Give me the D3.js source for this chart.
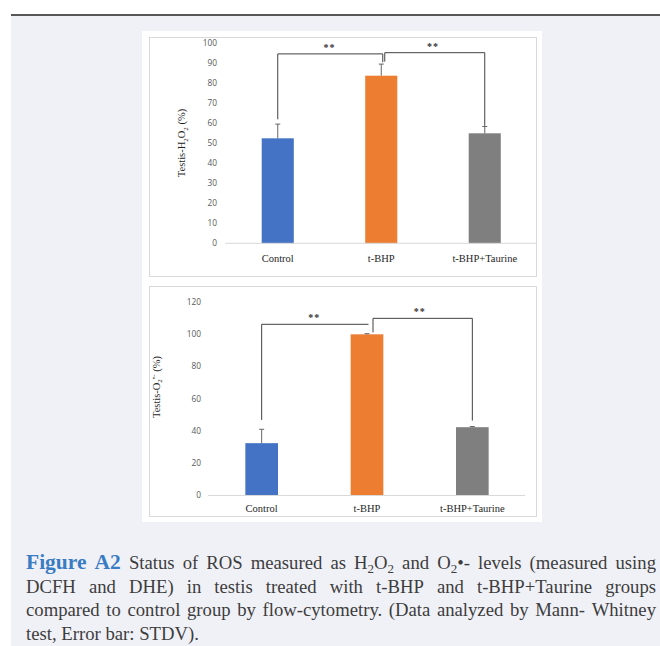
<!DOCTYPE html>
<html>
<head>
<meta charset="utf-8">
<script src="https://cdn.jsdelivr.net/npm/d3@7"></script>
<style>
  body { margin: 0; background: #fff; }
  svg { display: block; }
</style>
</head>
<body>
<svg id="fig" width="660" height="646"></svg>
<script>
var groups = ["Control", "t-BHP", "t-BHP+Taurine"];
var barColors = ["#4472c4", "#ed7d31", "#7f7f7f"];

// top chart: H2O2
var h2o2Mean = [52.5, 83.8, 55.0];
var h2o2Sd = [7.1, 5.8, 3.4];
var h2o2Ticks = [0, 10, 20, 30, 40, 50, 60, 70, 80, 90, 100];
var h2o2Brackets = [
  { from: 0, to: 1, top: 94.7, left: 62.0, right: 90.5, label: "**" },
  { from: 1, to: 2, top: 95.3, left: 90.8, right: 58.7, label: "**" }
];

// bottom chart: O2•-
var o2Mean = [32.4, 99.8, 42.3];
var o2Sd = [8.6, 0.4, 0.4];
var o2Ticks = [0, 20, 40, 60, 80, 100, 120];
var o2Brackets = [
  { from: 0, to: 1, top: 106.0, left: 46.8, right: 106.0, label: "**" },
  { from: 1, to: 2, top: 109.7, left: 101.0, right: 46.4, label: "**" }
];

var captionLines = [
  ["Figure", "A2", "Status", "of", "ROS", "measured", "as", "H_2O_2", "and", "O_2•-", "levels", "(measured", "using"],
  ["DCFH", "and", "DHE)", "in", "testis", "treated", "with", "t-BHP", "and", "t-BHP+Taurine", "groups"],
  ["compared", "to", "control", "group", "by", "flow-cytometry.", "(Data", "analyzed", "by", "Mann-", "Whitney"],
  ["test,", "Error", "bar:", "STDV)."]
];

var svg = d3.select("#fig");

// page background
svg.append("rect").attr("x", 11).attr("y", 15).attr("width", 649).attr("height", 631).attr("fill", "#f0f1f7");
svg.append("line").attr("x1", 11).attr("x2", 660).attr("y1", 15).attr("y2", 15)
  .attr("stroke", "#222").attr("stroke-width", 1.6);
// the pasted chart picture
svg.append("rect").attr("x", 142).attr("y", 31).attr("width", 400).attr("height", 491).attr("fill", "#fff");

function drawChart(cfg) {
  var g = svg.append("g");
  g.append("rect")
    .attr("x", cfg.box[0] + 0.5).attr("y", cfg.box[1] + 0.5)
    .attr("width", cfg.box[2]).attr("height", cfg.box[3])
    .attr("fill", "#fff").attr("stroke", "#d9d9d9");

  var x = d3.scaleBand().domain(d3.range(groups.length))
    .range([cfg.x0, cfg.x1]).paddingInner(0.69).paddingOuter(0.345);
  var y = d3.scaleLinear().domain([0, cfg.max]).range([cfg.y0, cfg.y1]);
  var cx = function (i) { return x(i) + x.bandwidth() / 2; };

  // tick labels only, no tick marks
  g.selectAll(".tick").data(cfg.ticks).enter().append("text")
    .attr("x", cfg.x0 - cfg.tickGap)
    .attr("y", function (d) { return y(d); })
    .attr("dy", "0.35em")
    .attr("text-anchor", "end")
    .attr("font-family", "Open Sans, sans-serif")
    .attr("font-size", 8.3)
    .attr("fill", "#595959")
    .text(function (d) { return d; });

  g.selectAll(".bar").data(cfg.mean).enter().append("rect")
    .attr("x", function (d, i) { return x(i); })
    .attr("y", function (d) { return y(d); })
    .attr("width", x.bandwidth())
    .attr("height", function (d) { return y(0) - y(d); })
    .attr("fill", function (d, i) { return barColors[i]; });

  g.append("line")
    .attr("x1", cfg.x0 - 1).attr("x2", cfg.x1)
    .attr("y1", y(0)).attr("y2", y(0))
    .attr("stroke", "#d9d9d9").attr("stroke-width", 1);

  // plus-only error bars
  var err = g.selectAll(".err").data(cfg.mean).enter().append("g");
  err.append("line")
    .attr("x1", function (d, i) { return cx(i); })
    .attr("x2", function (d, i) { return cx(i); })
    .attr("y1", function (d) { return y(d); })
    .attr("y2", function (d, i) { return y(d + cfg.sd[i]); })
    .attr("stroke", "#666").attr("stroke-width", 1);
  err.append("line")
    .attr("x1", function (d, i) { return cx(i) - 2.5; })
    .attr("x2", function (d, i) { return cx(i) + 2.5; })
    .attr("y1", function (d, i) { return y(d + cfg.sd[i]); })
    .attr("y2", function (d, i) { return y(d + cfg.sd[i]); })
    .attr("stroke", "#666").attr("stroke-width", 1);

  g.selectAll(".cat").data(groups).enter().append("text")
    .attr("x", function (d, i) { return cx(i); })
    .attr("y", cfg.catY)
    .attr("text-anchor", "middle")
    .attr("font-family", "Liberation Serif, serif")
    .attr("font-size", 10.5)
    .attr("fill", "#262626")
    .text(function (d) { return d; });

  // significance brackets
  var br = g.selectAll(".br").data(cfg.brackets).enter().append("g");
  br.append("path")
    .attr("d", function (d, k) {
      var xa = cx(d.from) + (k > 0 ? cfg.midShift : 0);
      var xb = cx(d.to) + (k === 0 ? 1.5 : 0);
      return "M" + xa + "," + y(d.left) + "V" + y(d.top) + "H" + xb + "V" + y(d.right);
    })
    .attr("fill", "none").attr("stroke", "#404040").attr("stroke-width", 1);
  br.append("text")
    .attr("x", function (d) { return (cx(d.from) + cx(d.to)) / 2; })
    .attr("y", function (d) { return y(d.top) - 3; })
    .attr("text-anchor", "middle")
    .attr("font-family", "Liberation Serif, serif")
    .attr("font-weight", "bold")
    .attr("font-size", 10)
    .attr("letter-spacing", 1)
    .attr("fill", "#333")
    .text(function (d) { return d.label; });

  var t = g.append("text")
    .attr("transform", "translate(" + cfg.titlePos[0] + "," + cfg.titlePos[1] + ") rotate(-90)")
    .attr("text-anchor", "middle")
    .attr("font-family", "Liberation Serif, serif")
    .attr("font-size", 10.5)
    .attr("fill", "#1f1f1f");
  cfg.title.forEach(function (p) {
    var s = t.append("tspan").text(p[0]);
    if (p[1] === "sub") s.attr("font-size", 7).attr("dy", 2.5);
    if (p[1] === "sup") s.attr("font-size", 7).attr("dy", -6);
    if (p[1] === "back") s.attr("dy", p[2]);
  });
}

drawChart({
  box: [149, 37, 387, 239],
  x0: 226, x1: 536.5, y0: 243.3, y1: 43.3, max: 100,
  ticks: h2o2Ticks, mean: h2o2Mean, sd: h2o2Sd, brackets: h2o2Brackets,
  tickGap: 9, catY: 261.5, midShift: 3.5,
  titlePos: [185, 143],
  title: [["Testis-H"], ["2", "sub"], ["O", "back", -2.5], ["2", "sub"], [" (%)", "back", -2.5]]
});

drawChart({
  box: [149, 286, 387, 230],
  x0: 209, x1: 525, y0: 495.5, y1: 301.7, max: 120,
  ticks: o2Ticks, mean: o2Mean, sd: o2Sd, brackets: o2Brackets,
  tickGap: 8, catY: 512, midShift: 6,
  titlePos: [159.5, 387],
  title: [["Testis-O"], ["2", "sub"], ["•-", "sup"], [" (%)", "back", 3.5]]
});

// caption, justified
var capX0 = 26, capX1 = 656;
var capY = [568.5, 592.5, 616, 639.5];
var cap = svg.append("g");

function makeWord(w, bold) {
  var t = cap.append("text")
    .attr("font-family", "Liberation Serif, serif")
    .attr("font-size", bold ? 21.5 : 18.7)
    .attr("font-weight", bold ? "bold" : "normal")
    .attr("fill", bold ? "#3a7cc3" : "#3d3d3d");
  var i = 0, buf = "", shifted = false;
  while (i < w.length) {
    if (w[i] === "_") {
      if (buf) t.append("tspan").text(buf).attr("dy", shifted ? -4 : null);
      buf = ""; shifted = false;
      t.append("tspan").text(w[i + 1]).attr("font-size", 13).attr("dy", 4);
      shifted = true;
      i += 2;
    } else {
      buf += w[i];
      i++;
    }
  }
  if (buf) t.append("tspan").text(buf).attr("dy", shifted ? -4 : null);
  return t;
}

var spaceW = 4.7;
captionLines.forEach(function (line, li) {
  var nodes = line.map(function (w, wi) { return makeWord(w, li === 0 && wi < 2); });
  var widths = nodes.map(function (n) { return n.node().getComputedTextLength(); });
  var total = d3.sum(widths);
  var gap = li === captionLines.length - 1 ? spaceW : (capX1 - capX0 - total) / (line.length - 1);
  var xx = capX0;
  nodes.forEach(function (n, k) {
    n.attr("x", xx).attr("y", capY[li]);
    xx += widths[k] + gap;
  });
});
</script>
</body>
</html>
